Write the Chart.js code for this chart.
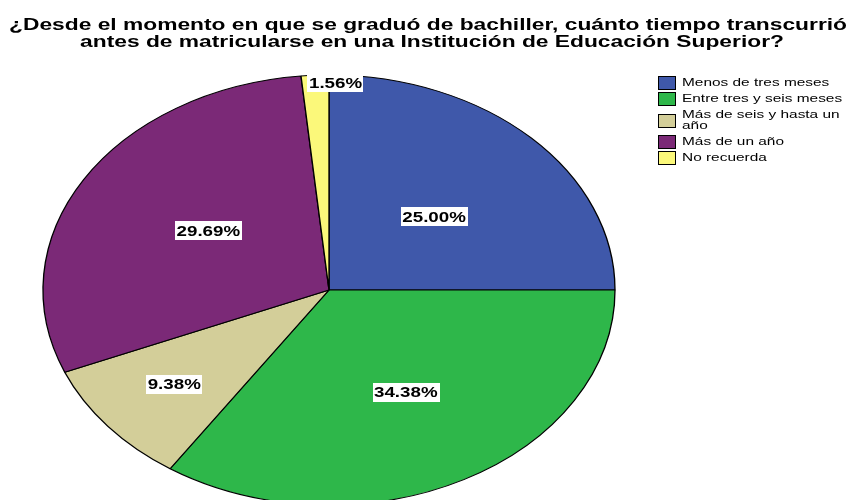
<!DOCTYPE html>
<html>
<head>
<meta charset="utf-8">
<script src="https://cdn.jsdelivr.net/npm/chart.js@4/dist/chart.umd.min.js"></script>
<style>
  html, body { margin: 0; padding: 0; background: #fff; overflow: hidden; }
  #wrap { width: 861px; height: 500px; }
</style>
</head>
<body>
<div id="wrap"><canvas id="pieChart" width="861" height="500"></canvas></div>
<script>
// Data (percent of respondents)
const categories = [
    'Menos de tres meses',
    'Entre tres y seis meses',
    'Más de seis y hasta un año',
    'Más de un año',
    'No recuerda'
];
const percents = [25.00, 34.38, 9.38, 29.69, 1.56];
const sliceColors = ['#3f58aa', '#2eb74a', '#d3ce99', '#7b2977', '#fbf87a'];
const titleLines = [
    '¿Desde el momento en que se graduó de bachiller, cuánto tiempo transcurrió',
    'antes de matricularse en una Institución de Educación Superior?'
];

// The original export is stretched sideways, so text is widened by this
const STRETCH = 1.34;
// Where the (elliptical) pie sits on the page
const PIE = { cx: 329, cy: 290, rx: 286, ry: 215 };
// How far out each percent label sits (fraction of radius) plus a small nudge in px
const labelRadius = [0.5, 0.54, 0.7, 0.5, 0.96];
const labelNudge = [[4, 3], [4, 0], [0, -1], [2, -4], [20, -1]];

const FONT = "'Liberation Sans', Arial, sans-serif";

// draw text widened horizontally, anchored by align
function wideText(ctx, txt, x, y, align) {
    const w = ctx.measureText(txt).width * STRETCH;
    let left = x;
    if (align === 'center') left = x - w / 2;
    ctx.save();
    ctx.translate(left, y);
    ctx.scale(STRETCH, 1);
    ctx.textAlign = 'left';
    ctx.fillText(txt, 0, 0);
    ctx.restore();
    return w;
}

// Squash the round Chart.js pie into an ellipse
const ellipsePlugin = {
    id: 'ellipse',
    beforeDatasetsDraw(chart) {
        const arc = chart.getDatasetMeta(0).data[0];
        if (!arc) return;
        const ctx = chart.ctx;
        const R = arc.outerRadius;
        ctx.save();
        ctx.translate(PIE.cx, PIE.cy);
        ctx.scale(PIE.rx / R, PIE.ry / R);
        ctx.translate(-arc.x, -arc.y);
    },
    afterDatasetsDraw(chart) {
        const ctx = chart.ctx;
        ctx.restore();

        // percent labels on white boxes
        const meta = chart.getDatasetMeta(0);
        ctx.save();
        ctx.font = 'bold 14px ' + FONT;
        ctx.textBaseline = 'middle';
        meta.data.forEach((arc, i) => {
            const mid = (arc.startAngle + arc.endAngle) / 2;
            const r = labelRadius[i];
            const x = PIE.cx + Math.cos(mid) * PIE.rx * r + labelNudge[i][0];
            const y = PIE.cy + Math.sin(mid) * PIE.ry * r + labelNudge[i][1];
            const txt = percents[i].toFixed(2) + '%';
            const w = ctx.measureText(txt).width * STRETCH + 3;
            ctx.fillStyle = '#fff';
            ctx.fillRect(Math.round(x - w / 2), Math.round(y - 9.5), Math.round(w), 19);
            ctx.fillStyle = '#000';
            wideText(ctx, txt, x, y + 1, 'center');
        });
        ctx.restore();
    }
};

// Title and legend drawn by hand so they can be widened like the original
const decorPlugin = {
    id: 'decor',
    afterDraw(chart) {
        const ctx = chart.ctx;
        ctx.save();
        ctx.fillStyle = '#000';
        ctx.textBaseline = 'alphabetic';
        ctx.font = 'bold 17px ' + FONT;
        wideText(ctx, titleLines[0], 428, 30, 'center');
        wideText(ctx, titleLines[1], 432, 47, 'center');

        // legend on the right
        ctx.font = '11.5px ' + FONT;
        ctx.textBaseline = 'middle';
        let y = 82;
        categories.forEach((label, i) => {
            const words = label.split(' ');
            const lines = [];
            let line = '';
            words.forEach(w => {
                const test = line ? line + ' ' + w : w;
                if (ctx.measureText(test).width * STRETCH > 172 && line) {
                    lines.push(line);
                    line = w;
                } else {
                    line = test;
                }
            });
            lines.push(line);

            const blockMid = y + (lines.length - 1) * 11 / 2;
            const top = Math.round(blockMid - 6);
            ctx.fillStyle = sliceColors[i];
            ctx.fillRect(658, top, 17, 13);
            ctx.strokeStyle = '#000';
            ctx.lineWidth = 1;
            ctx.strokeRect(658.5, top + 0.5, 17, 13);

            ctx.fillStyle = '#000';
            lines.forEach((l, k) => wideText(ctx, l, 682, y + 1 + k * 11, 'left'));
            y += 16 + (lines.length - 1) * 11;
        });
        ctx.restore();
    }
};

new Chart(document.getElementById('pieChart').getContext('2d'), {
    type: 'pie',
    data: {
        labels: categories,
        datasets: [{
            data: percents,
            backgroundColor: sliceColors,
            borderColor: '#000',
            borderWidth: 1
        }]
    },
    options: {
        responsive: false,
        animation: false,
        events: [],
        layout: { padding: { top: 60, bottom: 10, left: 10, right: 300 } },
        plugins: {
            legend: { display: false },
            tooltip: { enabled: false },
            title: { display: false }
        }
    },
    plugins: [ellipsePlugin, decorPlugin]
});
</script>
</body>
</html>
